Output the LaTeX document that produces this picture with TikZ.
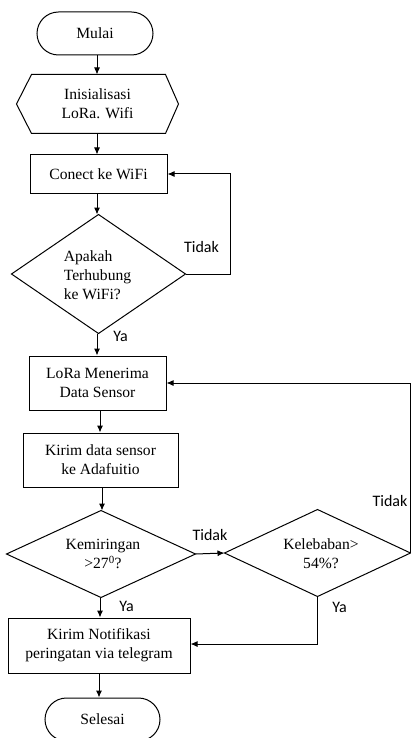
\documentclass[tikz,border=0pt]{standalone}
\usepackage{fontspec}
\setmainfont{Liberation Serif}
\newfontfamily\labfont{Carlito}
\usetikzlibrary{arrows.meta}
\begin{document}
\begin{tikzpicture}[x=1pt,y=-1pt,
  line width=1pt,
  shapebox/.style={inner sep=0pt, align=center, font=\fontsize{15.6}{19}\selectfont},
  lbl/.style={font=\labfont\fontsize{16}{18}\selectfont, inner sep=0pt},
  arr/.style={-{Latex[length=7pt,width=6pt]}}
]
\useasboundingbox (0,0) rectangle (411,738);

% Mulai
\node[draw, shapebox, rounded corners=21.5pt, minimum width=116pt, minimum height=43pt] (start) at (95,33.5) {Mulai};
% Hexagon
\node[shapebox, minimum width=161pt, minimum height=58pt] (init) at (97.5,104) {Inisialisasi\\LoRa. Wifi};
\draw ([xshift=15pt]init.north west) -- ([xshift=-13pt]init.north east) -- (init.east)
  -- ([xshift=-13pt]init.south east) -- ([xshift=15pt]init.south west) -- (init.west) -- cycle;
% Conect
\node[draw, shapebox, minimum width=137pt, minimum height=38pt] (conn) at (98.5,174) {Conect ke WiFi};
% Diamond 1
\node[shapebox, minimum width=173pt, minimum height=118pt] (d1) at (98.5,274) {};
\draw (d1.north) -- (d1.east) -- (d1.south) -- (d1.west) -- cycle;
\node[shapebox, align=left] (d1t) at (97.5,275) {Apakah\\Terhubung\\ke WiFi?};
% LoRa
\node[draw, shapebox, minimum width=137pt, minimum height=54pt] (lora) at (97.5,383) {LoRa Menerima\\Data Sensor};
% Kirim data
\node[draw, shapebox, minimum width=155pt, minimum height=54pt] (kirim) at (100.5,460) {Kirim data sensor\\ke Adafuitio};
% Diamond K1
\node[shapebox, minimum width=188pt, minimum height=86pt] (k1) at (101,554) {};
\draw (k1.north) -- (k1.east) -- (k1.south) -- (k1.west) -- cycle;
\node[shapebox] (k1t) at (103,554) {Kemiringan\\>27\textsuperscript{0}?};
% Diamond K2
\node[shapebox, minimum width=185pt, minimum height=86pt] (k2) at (317.5,553) {};
\draw (k2.north) -- (k2.east) -- (k2.south) -- (k2.west) -- cycle;
\node[shapebox] (k2t) at (321,554) {Kelebaban>\\54\%?};
% Notifikasi
\node[draw, shapebox, minimum width=182pt, minimum height=55pt] (notif) at (99,645.5) {Kirim Notifikasi\\peringatan via telegram};
% Selesai
\node[draw, shapebox, rounded corners=21.5pt, minimum width=115pt, minimum height=43pt] (end) at (102.5,719.5) {Selesai};

% connectors
\draw[arr] (start.south -| 97,0) -- (init.north -| 97,0);
\draw[arr] (init.south -| 97,0) -- (conn.north -| 97,0);
\draw[arr] (conn.south -| 97,0) -- (d1.north -| 97,0);
\draw[arr] (d1.east) -- ++(45,0) |- (conn.east);
\draw[arr] (d1.south -| 97,0) -- (lora.north -| 97,0);
\draw[arr] (lora.south -| 100,0) -- (kirim.north -| 100,0);
\draw[arr] (kirim.south -| 102,0) -- (k1.north -| 102,0);
\draw[arr] (k1.east) -- (k2.west);
\draw[arr] (k2.east) -- (k2.east |- lora.east) -- (lora.east);
\draw[arr] (k1.south -| 100,0) -- (notif.north -| 100,0);
\draw[arr] (k2.south) -- (k2.south |- 0,644) -- (notif.east |- 0,644);
\draw[arr] (notif.south -| 99,0) -- (end.north -| 99,0);

% labels
\node[lbl] (l1) at (201.5,247) {Tidak};
\node[lbl] (l2) at (120.5,336) {Ya};
\node[lbl] (l3) at (390,501) {Tidak};
\node[lbl] (l4) at (210,535) {Tidak};
\node[lbl] (l5) at (126.5,606) {Ya};
\node[lbl] (l6) at (339.5,607) {Ya};
\end{tikzpicture}
\end{document}
